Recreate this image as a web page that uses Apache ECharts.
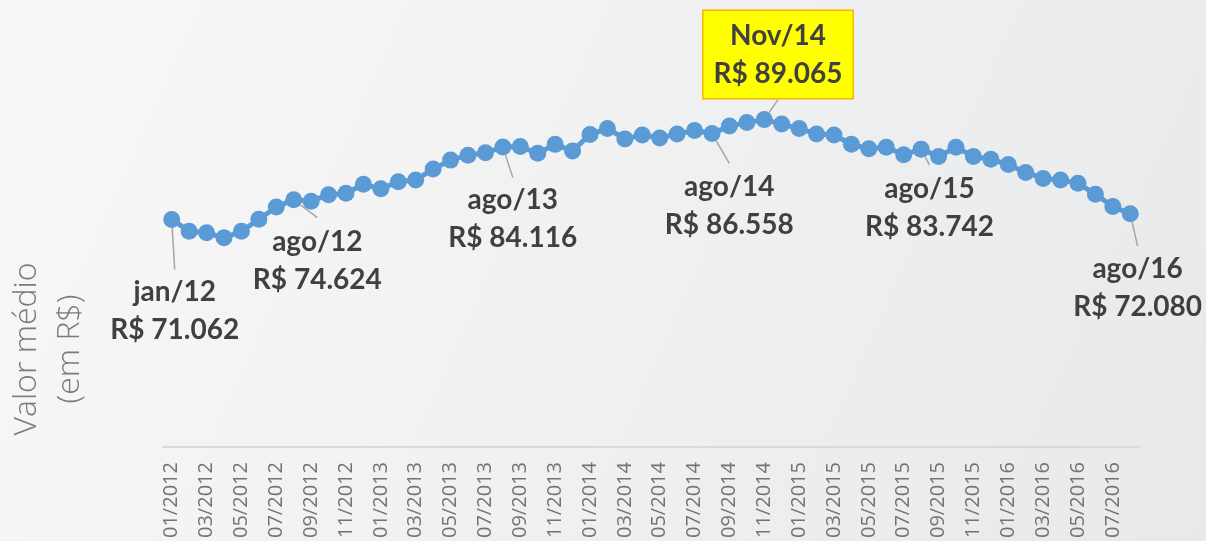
<!DOCTYPE html>
<html>
<head>
<meta charset="utf-8">
<title>Valor médio</title>
<script src="https://cdn.jsdelivr.net/npm/echarts@6/dist/echarts.min.js"></script>
<style>
  html, body { margin: 0; padding: 0; }
  #chart { width: 1206px; height: 541px; }
</style>
</head>
<body>
<div id="chart"></div>
<script>
// meses do eixo x
const months = [
  '01/2012','02/2012','03/2012','04/2012','05/2012','06/2012','07/2012','08/2012','09/2012','10/2012','11/2012','12/2012',
  '01/2013','02/2013','03/2013','04/2013','05/2013','06/2013','07/2013','08/2013','09/2013','10/2013','11/2013','12/2013',
  '01/2014','02/2014','03/2014','04/2014','05/2014','06/2014','07/2014','08/2014','09/2014','10/2014','11/2014','12/2014',
  '01/2015','02/2015','03/2015','04/2015','05/2015','06/2015','07/2015','08/2015','09/2015','10/2015','11/2015','12/2015',
  '01/2016','02/2016','03/2016','04/2016','05/2016','06/2016','07/2016','08/2016'
]
// valor médio (R$)
const values = [
  71062, 68920, 68650, 67760, 68920, 71080, 73290, 74624, 74360, 75520, 75790, 77390,
  76590, 77840, 78190, 80150, 81760, 82650, 83100, 84116, 84200, 83000, 84600, 83400,
  86400, 87460, 85590, 86300, 85770, 86480, 87100, 86558, 87900, 88530, 89065, 88260,
  87460, 86480, 86300, 84610, 83810, 84070, 82740, 83742, 82400, 84100, 82400, 81900,
  80950, 79530, 78460, 78190, 77570, 75610, 73380, 72080
]
// pontos com rótulo
const calloutIdx = [0, 7, 19, 31, 34, 43, 55]
const calloutNames = ['jan/12', 'ago/12', 'ago/13', 'ago/14', 'Nov/14', 'ago/15', 'ago/16']

// posição de cada rótulo (deslocamento em px a partir do ponto)
const calloutPos = {
  0:  { offset: [3, 92], padTop: 8 },
  7:  { offset: [23.6, 61], padTop: 10 },
  19: { offset: [9.9, 72], padTop: 7.3 },
  31: { offset: [17.3, 72.7], padTop: 9.5 },
  43: { offset: [8.3, 58.4], padTop: 9.2 },
  55: { offset: [7.3, 74], padTop: 7.2 }
}

function fmtReal (v) {
  return 'R$ ' + (v / 1000).toFixed(3)
}

const seriesData = values.map(function (v, i) {
  const k = calloutIdx.indexOf(i)
  if (k < 0) return v
  const label = {
    show: true,
    position: 'inside',
    formatter: calloutNames[k] + '\n' + fmtReal(v),
    fontFamily: 'Lato',
    fontWeight: 'bold',
    fontSize: 28,
    lineHeight: 38,
    color: '#404040',
    textBorderColor: 'transparent',
    align: 'center',
    verticalAlign: 'middle'
  }
  if (calloutNames[k] === 'Nov/14') {
    // destaque do valor máximo
    label.offset = [13.7, -65]
    label.backgroundColor = '#ffff00'
    label.borderColor = '#f5b800'
    label.borderWidth = 1.5
    label.padding = [5, 10, 6, 10]
  } else {
    label.offset = calloutPos[i].offset
    label.backgroundColor = 'rgba(0,0,0,0)'
    label.padding = [calloutPos[i].padTop, 0, 0, 0]
  }
  return {
    value: v,
    label: label,
    labelLine: { show: true, lineStyle: { color: '#a6a6a6', width: 1.5 } }
  }
})

const chart = echarts.init(document.getElementById('chart'))
chart.setOption({
  animation: false,
  backgroundColor: new echarts.graphic.LinearGradient(0, 0, 1, 1, [
    { offset: 0, color: '#f8f8f8' },
    { offset: 1, color: '#e8e9eb' }
  ]),
  grid: { left: 163, right: 67, top: 59, bottom: 89 },
  graphic: [{
    type: 'text',
    x: 48,
    y: 349,
    rotation: Math.PI / 2,
    style: {
      text: 'Valor médio\n(em R$)',
      font: '300 32px "Open Sans"',
      fill: '#7a7a7a',
      lineHeight: 43,
      align: 'center',
      verticalAlign: 'middle'
    }
  }],
  xAxis: {
    type: 'category',
    data: months,
    boundaryGap: true,
    axisLine: { lineStyle: { color: '#d9d9d9', width: 2 } },
    axisTick: { interval: 1, length: 7, lineStyle: { color: '#d9d9d9', width: 1.5 } },
    axisLabel: {
      interval: 1,
      rotate: 90,
      margin: 15,
      fontFamily: 'Open Sans',
      fontSize: 20,
      color: '#737373'
    }
  },
  yAxis: {
    type: 'value',
    min: 30000,
    max: 100000,
    show: false,
    splitLine: { show: false }
  },
  series: [{
    type: 'line',
    data: seriesData,
    symbol: 'circle',
    symbolSize: 17,
    showAllSymbol: true,
    lineStyle: { color: '#5b9bd5', width: 5 },
    itemStyle: { color: '#5b9bd5' },
    label: { show: false },
    emphasis: { disabled: true }
  }]
})
</script>
</body>
</html>
